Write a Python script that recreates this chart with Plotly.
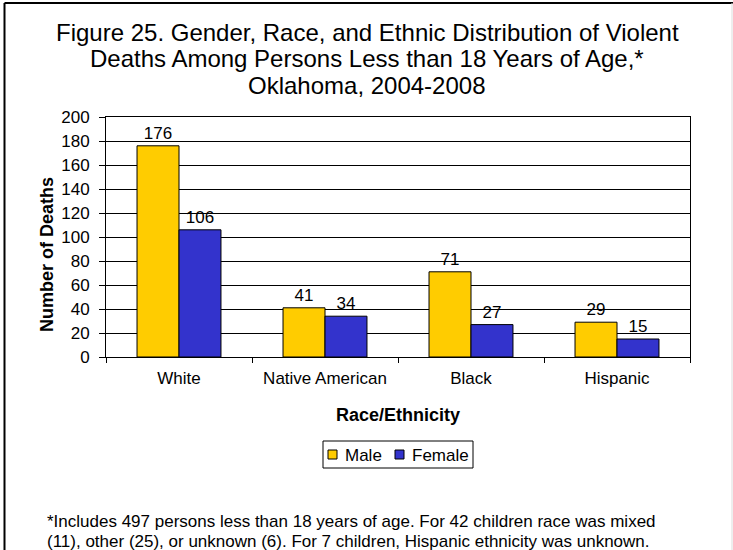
import plotly.graph_objects as go

categories = ["White", "Native American", "Black", "Hispanic"]
male = [176, 41, 71, 29]
female = [106, 34, 27, 15]
y_ticks = list(range(0, 201, 20))
series_names = ["Male", "Female"]
series_colors = ["#FFCC00", "#3333CC"]

title_lines = [
    "Figure 25. Gender, Race, and Ethnic Distribution of Violent",
    "Deaths Among Persons Less than 18 Years of Age,*",
    "Oklahoma, 2004-2008",
]
footnote_lines = [
    "*Includes 497 persons less than 18 years of age. For 42 children race was mixed",
    "(11), other (25), or unknown (6). For 7 children, Hispanic ethnicity was unknown.",
]

FONT = "Liberation Sans, Arial, sans-serif"

# plot area in page pixels (733 x 550 window)
L, R, T, B = 106, 690, 117, 357
W, H = 733, 550
pw, ph = R - L, B - T


def px_x(x):
    return (x - L) / pw


def px_y(y):
    return (B - y) / ph


fig = go.Figure()
for name, vals, col in zip(series_names, [male, female], series_colors):
    fig.add_trace(go.Bar(
        x=categories, y=vals, name=name,
        marker=dict(color=col, line=dict(color="#000000", width=1)),
        text=vals, textposition="outside", cliponaxis=False,
        textfont=dict(family=FONT, size=17, color="#000000"),
    ))

fig.update_layout(
    width=W, height=H,
    margin=dict(l=L, r=W - R, t=T, b=H - B, pad=0),
    paper_bgcolor="white", plot_bgcolor="white",
    barmode="group", bargap=0.425, bargroupgap=0,
    font=dict(family=FONT, size=17, color="#000000"),
    showlegend=False,
    xaxis=dict(
        showline=True, linecolor="#000000", linewidth=1, mirror=True,
        ticks="outside", tickson="boundaries", ticklen=5, tickcolor="#000000",
        tickfont=dict(family=FONT, size=17), ticklabelstandoff=6,
    ),
    yaxis=dict(
        range=[0, 200], tickvals=y_ticks,
        showline=True, linecolor="#000000", linewidth=1, mirror=True,
        showgrid=True, gridcolor="#000000", gridwidth=1,
        ticks="outside", ticklen=6, tickcolor="#000000",
        tickfont=dict(family=FONT, size=17), ticklabelstandoff=6,
        zeroline=False,
    ),
)

# title, one annotation per line
for line, yc in zip(title_lines, [33, 59, 85]):
    fig.add_annotation(
        text=line, xref="paper", yref="paper",
        x=px_x(367), y=px_y(yc), xanchor="center", yanchor="middle",
        showarrow=False, font=dict(family=FONT, size=24, color="#000000"),
    )

# axis titles
fig.add_annotation(
    text="<b>Number of Deaths</b>", xref="paper", yref="paper",
    x=px_x(47), y=px_y(255), xanchor="center", yanchor="middle", textangle=-90,
    showarrow=False, font=dict(family=FONT, size=18, color="#000000"),
)
fig.add_annotation(
    text="<b>Race/Ethnicity</b>", xref="paper", yref="paper",
    x=px_x(398), y=px_y(415), xanchor="center", yanchor="middle",
    showarrow=False, font=dict(family=FONT, size=18, color="#000000"),
)

# legend box drawn by hand to match the compact Excel key
fig.add_shape(type="rect", xref="paper", yref="paper",
              x0=px_x(323), x1=px_x(473), y0=px_y(441), y1=px_y(468),
              line=dict(color="#000000", width=1), fillcolor="white")
for name, col, sx in zip(series_names, series_colors, [328, 395]):
    fig.add_shape(type="rect", xref="paper", yref="paper",
                  x0=px_x(sx), x1=px_x(sx + 9), y0=px_y(450), y1=px_y(459),
                  line=dict(color="#000000", width=1), fillcolor=col)
    fig.add_annotation(
        text=name, xref="paper", yref="paper",
        x=px_x(sx + 15), y=px_y(455), xanchor="left", yanchor="middle",
        showarrow=False, font=dict(family=FONT, size=17, color="#000000"),
    )

# footnote
for line, yc in zip(footnote_lines, [521, 541]):
    fig.add_annotation(
        text=line, xref="paper", yref="paper",
        x=px_x(45), y=px_y(yc), xanchor="left", yanchor="middle",
        showarrow=False, font=dict(family=FONT, size=17, color="#000000"),
    )

# outer frame (left and top edges visible)
fig.add_shape(type="line", xref="paper", yref="paper",
              x0=px_x(4.5), x1=px_x(4.5), y0=px_y(3), y1=px_y(552),
              line=dict(color="#000000", width=2))
fig.add_shape(type="line", xref="paper", yref="paper",
              x0=px_x(4.5), x1=px_x(735), y0=px_y(3), y1=px_y(3),
              line=dict(color="#000000", width=2))
fig.add_shape(type="line", xref="paper", yref="paper",
              x0=px_x(732), x1=px_x(732), y0=px_y(3), y1=px_y(552),
              line=dict(color="#DDDDDD", width=1))

fig.write_html("out.html", config={"displayModeBar": False},
               post_script="document.body.style.margin='0';")
